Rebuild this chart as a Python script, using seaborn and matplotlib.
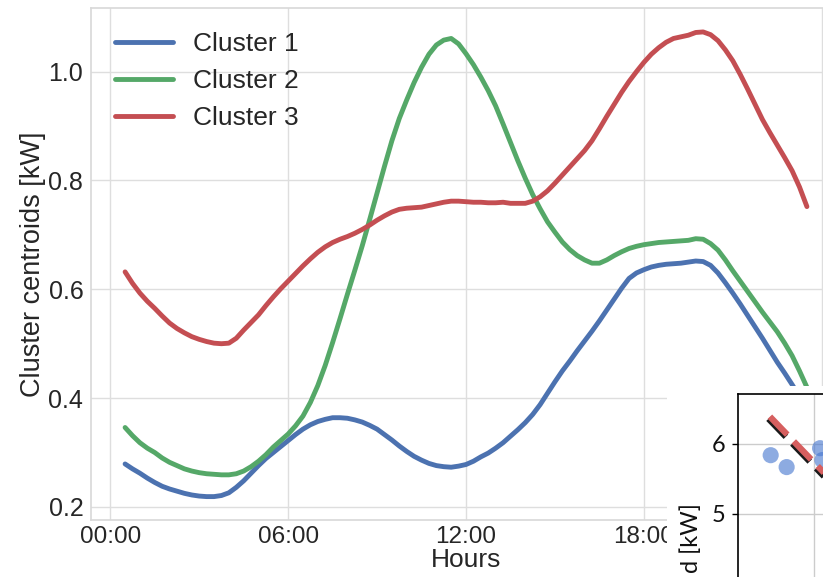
import numpy as np
import pandas as pd
import matplotlib
matplotlib.use("Agg")
import matplotlib.pyplot as plt
import matplotlib.patheffects as pe
from matplotlib.patches import Rectangle
import seaborn as sns

# ---------------- data ----------------
hours = np.arange(0.5, 23.51, 0.25)  # quarter-hour time stamps 00:30 .. 23:30

cluster1 = [.279, .270, .262, .253, .245, .238, .233, .229, .225, .222, .220, .219,
            .219, .221, .226, .236, .248, .262, .276, .289, .300, .311, .322, .333,
            .343, .351, .357, .361, .364, .364, .363, .360, .356, .350, .343, .333,
            .323, .312, .302, .293, .286, .280, .276, .274, .273, .275, .278, .284,
            .292, .299, .308, .318, .330, .342, .355, .370, .388, .409, .430, .450,
            .468, .487, .505, .523, .542, .562, .582, .602, .620, .630, .636, .641,
            .644, .646, .647, .648, .650, .652, .651, .644, .630, .612, .593, .573,
            .552, .531, .510, .488, .466, .446, .425, .403, .380]
cluster2 = [.346, .331, .318, .308, .300, .290, .282, .276, .270, .266, .263, .261,
            .260, .259, .259, .261, .266, .274, .284, .296, .310, .322, .334, .349,
            .367, .392, .423, .460, .502, .546, .591, .635, .680, .728, .777, .826,
            .873, .914, .948, .980, 1.008, 1.032, 1.049, 1.058, 1.061, 1.051, 1.033, 1.013,
            .990, .965, .937, .904, .870, .836, .804, .774, .748, .724, .705, .687,
            .673, .662, .654, .648, .648, .654, .662, .669, .675, .679, .682, .684,
            .686, .687, .688, .689, .690, .693, .692, .684, .672, .654, .634, .615,
            .596, .577, .558, .540, .522, .501, .478, .450, .420]
cluster3 = [.632, .611, .593, .578, .565, .551, .538, .528, .520, .513, .508, .504,
            .501, .500, .501, .510, .525, .539, .553, .570, .586, .601, .615, .629,
            .643, .656, .668, .678, .686, .692, .697, .703, .710, .718, .727, .735,
            .742, .747, .749, .750, .751, .754, .757, .760, .762, .762, .761, .760,
            .760, .759, .759, .760, .758, .758, .758, .762, .770, .781, .795, .810,
            .825, .840, .855, .873, .895, .918, .940, .962, .982, 1.000, 1.017, 1.032,
            1.044, 1.054, 1.061, 1.064, 1.067, 1.072, 1.073, 1.068, 1.057, 1.040, 1.020, .995,
            .968, .940, .912, .888, .865, .842, .818, .788, .752]
cluster_names = ["Cluster 1", "Cluster 2", "Cluster 3"]
x_ticks = [0, 6, 12, 18, 24]
x_ticklabels = ["00:00", "06:00", "12:00", "18:00", ""]
y_ticks = [0.2, 0.4, 0.6, 0.8, 1.0]
y_ticklabels = ["0.2", "0.4", "0.6", "0.8", "1.0"]

# inset (partially visible scatter with fitted line)
inset_x = [2.15, 3.2, 5.4, 5.55]
inset_y = [5.84, 5.67, 5.94, 5.77]
fit_x = [2.1, 12.0]
fit_y = [6.39, 4.16]
inset_yticks = [5, 6]
inset_yticklabels = ["5", "6"]

colors = ["#4C72B0", "#55A868", "#C44E52"]

# ---------------- plot ----------------
sns.set_theme(style="whitegrid")
plt.rcParams["font.family"] = ["Liberation Sans", "DejaVu Sans"]

W, H = 823, 577
fig = plt.figure(figsize=(W / 100, H / 100), dpi=100)
ax = fig.add_axes([91 / W, 1 - 520 / H, 750 / W, 512 / H])

df = pd.DataFrame({
    "hour": np.concatenate([hours, hours, hours]),
    "value": cluster1 + cluster2 + cluster3,
    "cluster": np.repeat(cluster_names, len(hours)),
})
sns.lineplot(data=df, x="hour", y="value", hue="cluster", palette=colors,
             linewidth=3.5, ax=ax)
for ln in ax.get_lines():
    ln.set_solid_joinstyle("round")
    ln.set_solid_capstyle("round")

ax.set_xlim(-0.65, 24.65)
ax.set_ylim(0.176, 1.117)
ax.set_xticks(x_ticks)
ax.set_xticklabels(x_ticklabels)
ax.set_yticks(y_ticks)
ax.set_yticklabels(y_ticklabels)
ax.tick_params(axis="y", labelsize=18, colors=".15", pad=5.5, length=0)
ax.tick_params(axis="x", labelsize=17.5, colors=".15", pad=4.5, length=0)
ax.set_xlabel("Hours", fontsize=19, labelpad=-0.5, color=".15")
ax.set_ylabel("Cluster centroids [kW]", fontsize=19.5, labelpad=2, color=".15")
for s in ax.spines.values():
    s.set_color(".85")
ax.grid(True, color=".87", linewidth=1.0)

handles, labels = ax.get_legend_handles_labels()
leg = ax.legend(handles, labels, loc="upper left", frameon=False, fontsize=19,
                handlelength=2.2, handletextpad=0.75, labelspacing=0.5)
for ln in leg.get_lines():
    ln.set_linewidth(3.5)
    ln.set_solid_capstyle("round")
for t in leg.get_texts():
    t.set_color(".15")

# white panel of the overlapping figure
fig.add_artist(Rectangle((667 / W, 0), 1 - 667 / W, 1 - 386 / H,
                         transform=fig.transFigure, facecolor="white",
                         edgecolor="none", zorder=5))

ax2 = fig.add_axes([738 / W, 1 - 654 / H, 304 / W, 260 / H], zorder=10)
ax2.set_facecolor("white")
sns.scatterplot(x=inset_x, y=inset_y, ax=ax2, s=135, color="#4878d0",
                alpha=0.62, edgecolor="none", zorder=3)
sns.lineplot(x=fit_x, y=fit_y, ax=ax2, color="#d65f5f", linewidth=4.5, zorder=4)
fl = ax2.get_lines()[-1]
fl.set_dashes((4.0, 1.5))
fl.set_path_effects([pe.SimpleLineShadow(offset=(-1.0, -1.5), shadow_color="k", alpha=1.0),
                     pe.Normal()])
ax2.set_xlim(0, 20)
ax2.set_ylim(3, 6.714)
ax2.set_xticks([5, 10, 15])
ax2.set_yticks(inset_yticks)
ax2.set_yticklabels(inset_yticklabels)
ax2.grid(True, color=".8", linewidth=1.0)
for s in ax2.spines.values():
    s.set_color("black")
    s.set_linewidth(1.2)
ax2.tick_params(axis="y", left=True, length=4, width=1, color="black",
                direction="out", labelsize=17, pad=5, labelcolor="#111111")
ax2.tick_params(axis="x", bottom=False, labelbottom=False)
for t in ax2.get_yticklabels():
    t.set_fontfamily(["Lato", "DejaVu Sans"])
ax2.set_xlabel("")
ax2.set_ylabel("")

fig.text(691 / W, 1 - 503 / H, "d [kW]", rotation=90, ha="center", va="top",
         fontsize=17, family=["Lato", "DejaVu Sans"], color="#111111", zorder=11)

fig.savefig("out.png", dpi=100)
